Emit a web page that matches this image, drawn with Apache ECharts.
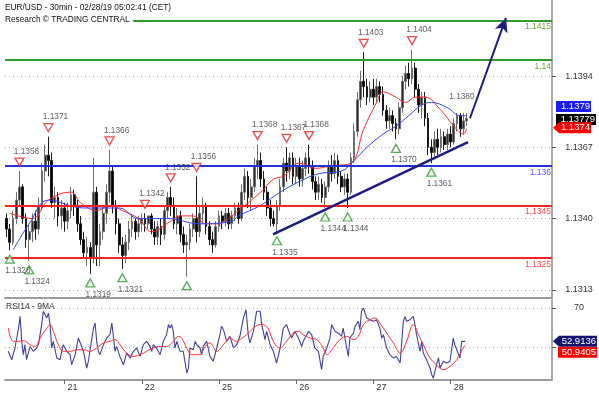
<!DOCTYPE html>
<html>
<head>
<meta charset="UTF-8">
<title>EUR/USD 30min</title>
<script src="https://cdn.jsdelivr.net/npm/echarts@6/dist/echarts.min.js"></script>
<style>
  html, body { margin: 0; padding: 0; background: #fff; }
  #chart { width: 599px; height: 397px; }
</style>
</head>
<body>
<div id="chart"></div>
<script>
// --- data (one candle per hour, index 0 = Feb 20 06:00) ---
const dayLabels = ['21', '22', '25', '26', '27', '28'];
const dayStarts = [18, 42, 66, 90, 114, 138];
const priceTicks = [1.1313, 1.1340, 1.1367, 1.1394];
const rsiTicks = [50, 70];
const rsiLabelTicks = [70];

const opens = [
  1.1340,1.1336,1.1331,1.1340,1.1347,1.1352,1.1340,1.1332,1.1335,1.1339,1.1336,1.1345,1.1358,1.1364,1.1362,1.1346,1.1348,1.1341,
  1.1344,1.1339,1.1343,1.1349,1.1345,1.1338,1.1332,1.1327,1.1329,1.1325,1.1350,1.1330,1.1335,1.1342,1.1350,1.1358,1.1345,1.1338,1.1330,1.1326,1.1331,1.1336,1.1339,1.1335,
  1.1338,1.1340,1.1338,1.1341,1.1336,1.1333,1.1337,1.1334,1.1343,1.1348,1.1345,1.1338,1.1341,1.1334,1.1330,1.1331,1.1336,1.1340,1.1335,1.1342,1.1345,1.1337,1.1332,1.1330,
  1.1337,1.1341,1.1339,1.1342,1.1338,1.1341,1.1344,1.1340,1.1350,1.1356,1.1348,1.1352,1.1360,1.1362,1.1355,1.1350,1.1344,1.1340,1.1338,1.1345,1.1352,1.1361,1.1358,1.1363,
  1.1356,1.1360,1.1355,1.1359,1.1363,1.1360,1.1354,1.1350,1.1353,1.1348,1.1352,1.1360,1.1357,1.1362,1.1356,1.1352,1.1355,1.1350,1.1363,1.1373,1.1385,1.1392,1.1390,1.1386,
  1.1389,1.1386,1.1390,1.1387,1.1381,1.1377,1.1379,1.1376,1.1374,1.1382,1.1392,1.1395,1.1393,1.1397,1.1389,1.1383,1.1386,1.1378,1.1367,1.1365,1.1370,1.1367,1.1371,1.1368,
  1.1372,1.1369,1.1376,1.1379,1.1374,1.1377
];
const closes = [
  1.1336,1.1331,1.1340,1.1347,1.1352,1.1340,1.1332,1.1335,1.1339,1.1336,1.1345,1.1358,1.1364,1.1362,1.1346,1.1348,1.1341,1.1344,
  1.1339,1.1343,1.1349,1.1345,1.1338,1.1332,1.1327,1.1329,1.1325,1.1350,1.1330,1.1335,1.1342,1.1350,1.1358,1.1345,1.1338,1.1330,1.1326,1.1331,1.1336,1.1339,1.1335,1.1338,
  1.1340,1.1338,1.1341,1.1336,1.1333,1.1337,1.1334,1.1343,1.1348,1.1345,1.1338,1.1341,1.1334,1.1330,1.1331,1.1336,1.1340,1.1335,1.1342,1.1345,1.1337,1.1332,1.1330,1.1337,
  1.1341,1.1339,1.1342,1.1338,1.1341,1.1344,1.1340,1.1350,1.1356,1.1348,1.1352,1.1360,1.1362,1.1355,1.1350,1.1344,1.1340,1.1338,1.1345,1.1352,1.1361,1.1358,1.1363,1.1356,
  1.1360,1.1355,1.1359,1.1363,1.1360,1.1354,1.1350,1.1353,1.1348,1.1352,1.1360,1.1357,1.1362,1.1356,1.1352,1.1355,1.1350,1.1363,1.1373,1.1385,1.1392,1.1390,1.1386,1.1389,
  1.1386,1.1390,1.1387,1.1381,1.1377,1.1379,1.1376,1.1374,1.1382,1.1392,1.1395,1.1393,1.1397,1.1389,1.1383,1.1386,1.1378,1.1367,1.1365,1.1370,1.1367,1.1371,1.1368,1.1372,
  1.1369,1.1376,1.1379,1.1374,1.1377,1.13779
];
const lows = [
  1.1333,1.1328,1.1330,1.1338,1.1345,1.1338,1.1329,1.1324,1.1331,1.1332,1.1334,1.1343,1.1354,1.1356,1.1344,1.1340,1.1337,1.1336,
  1.1335,1.1336,1.1340,1.1341,1.1335,1.1330,1.1325,1.1322,1.1319,1.1323,1.1322,1.1322,1.1332,1.1338,1.1346,1.1342,1.1334,1.1327,1.1321,1.1323,1.1328,1.1333,1.1332,1.1333,
  1.1335,1.1335,1.1336,1.1334,1.1330,1.1330,1.1330,1.1332,1.1340,1.1341,1.1336,1.1334,1.1331,1.1327,1.1318,1.1328,1.1333,1.1331,1.1333,1.1338,1.1334,1.1330,1.1327,1.1329,
  1.1335,1.1336,1.1337,1.1336,1.1336,1.1339,1.1338,1.1339,1.1347,1.1344,1.1343,1.1350,1.1355,1.1352,1.1347,1.1341,1.1337,1.1337,1.1335,1.1343,1.1350,1.1354,1.1355,1.1353,
  1.1353,1.1352,1.1352,1.1356,1.1357,1.1351,1.1347,1.1347,1.1346,1.1344,1.1350,1.1354,1.1355,1.1353,1.1350,1.1349,1.1344,1.1349,1.1361,1.1371,1.1382,1.1386,1.1383,1.1384,
  1.1383,1.1384,1.1384,1.1379,1.1374,1.1374,1.1373,1.1370,1.1372,1.1380,1.1389,1.1390,1.1391,1.1386,1.1380,1.1378,1.1375,1.1364,1.1361,1.1363,1.1364,1.1365,1.1366,1.1366,
  1.1367,1.1368,1.1373,1.1371,1.1372,1.1375
];
const highs = [
  1.1342,1.1338,1.1343,1.1350,1.1358,1.1353,1.1342,1.1338,1.1342,1.1343,1.1348,1.1361,1.1368,1.1371,1.1365,1.1352,1.1350,1.1347,
  1.1346,1.1346,1.1352,1.1351,1.1347,1.1341,1.1335,1.1333,1.1331,1.1363,1.1352,1.1338,1.1345,1.1353,1.1366,1.1360,1.1347,1.1340,1.1333,1.1334,1.1339,1.1341,1.1340,1.1341,
  1.1342,1.1342,1.1341,1.1342,1.1339,1.1339,1.1340,1.1345,1.1350,1.1352,1.1348,1.1344,1.1343,1.1337,1.1334,1.1338,1.1342,1.1356,1.1345,1.1348,1.1346,1.1339,1.1335,1.1339,
  1.1343,1.1343,1.1344,1.1344,1.1343,1.1346,1.1346,1.1353,1.1359,1.1358,1.1355,1.1363,1.1368,1.1365,1.1358,1.1352,1.1347,1.1343,1.1347,1.1355,1.1363,1.1367,1.1365,1.1365,
  1.1363,1.1363,1.1362,1.1365,1.1368,1.1362,1.1356,1.1356,1.1355,1.1354,1.1362,1.1364,1.1365,1.1364,1.1358,1.1357,1.1357,1.1365,1.1376,1.1388,1.1396,1.1403,1.1393,1.1392,
  1.1393,1.1393,1.1392,1.1390,1.1383,1.1382,1.1381,1.1378,1.1384,1.1394,1.1398,1.1399,1.1404,1.1399,1.1391,1.1388,1.1388,1.1380,1.1370,1.1373,1.1374,1.1374,1.1373,1.1374,
  1.1375,1.1378,1.1380,1.1380,1.1380,1.1380
];

// moving averages on the price panel: [candle index, price]
const redMa = [[1,1.1342],[8,1.1340],[13,1.1347],[20,1.1350],[23,1.1346],[28,1.1343],[32,1.1345],[36,1.1343],[41,1.1340],[45,1.1335],[51,1.1339],[54,1.1341],[58,1.1341],[62,1.1338],[66,1.1338],[70,1.1341],[72,1.1343],[79,1.1350],[83,1.1355],[86,1.1356],[91,1.1361],[96,1.1359],[101,1.1360],[107,1.1361],[111,1.1374],[115,1.1384],[117,1.1388],[121,1.1386],[124,1.1384],[127,1.1386],[130,1.1386],[135,1.1381],[139,1.1375],[142,1.1372],[143,1.1374]];
const blueMa = [[2,1.1328],[7,1.1338],[13,1.1347],[24,1.1344],[35,1.1344],[41,1.1340],[50,1.1340],[60,1.1338],[70,1.1339],[72,1.1341],[79,1.1345],[85,1.1350],[91,1.1354],[97,1.1357],[104,1.1358],[108,1.1362],[112,1.1367],[117,1.1372],[121,1.1375],[125,1.1379],[129,1.1383],[132,1.1384],[137,1.1382],[141,1.1379],[143,1.1379]];

// RSI14 and its 9MA: [position in candles, value]
const rsi = [[0.5,47.8],[1.6,43.5],[2.6,49.5],[3.7,59.7],[4.2,65.7],[4.7,52.9],[5.2,46.1],[5.7,51.2],[6.2,43.5],[7.3,50.3],[8.3,47.8],[9.3,49.5],[9.9,51.2],[10.9,61.5],[11.4,68.3],[12.5,64.9],[13,67.4],[13.5,61.5],[14,49.5],[14.5,52.9],[15.6,44.4],[16.6,43.5],[17.6,51.2],[18.7,47.8],[19.7,46.1],[20.2,40.9],[21.3,46.1],[22.3,54.6],[22.8,55.5],[23.9,47.8],[24.9,39.2],[25.4,42.7],[27,59.7],[27.5,62.3],[28,52.9],[28.5,47.8],[29,46.1],[30.1,51.2],[31.1,54.6],[32.1,56.3],[32.7,62.3],[33.7,47.8],[34.2,50.3],[35.2,45.2],[36.3,40.9],[37.3,46.9],[38.4,44.4],[39.4,47.8],[40.4,49.5],[41.5,45.2],[42.5,51.2],[43.5,52.9],[44.6,50.3],[45.1,47.8],[45.6,51.2],[46.6,49.5],[47.7,46.1],[48.7,52.9],[49.7,56.3],[50.3,61.5],[50.8,59.7],[51.3,61.5],[51.8,58],[52.3,49.5],[52.9,52.9],[53.9,47.8],[54.9,47.8],[56,36.7],[56.5,39.2],[57,49.5],[58,48.6],[58.6,52.9],[59.1,51.2],[60.1,49.5],[60.6,46.1],[61.1,50.3],[62.2,52.9],[63.2,45.2],[64.2,42.7],[65.3,49.5],[66.3,56.3],[66.8,60.6],[67.4,58.9],[68.4,52.9],[69.4,55.5],[70.5,49.5],[71.5,51.2],[72.5,55.5],
  [73.6,64.9],[74.4,69.1],[75.1,56.3],[75.6,52.1],[76.7,58],[77.7,68.3],[78.2,69.1],[78.8,68.3],[79.3,61.5],[80.3,53.8],[80.8,58],[81.9,51.2],[82.9,47.8],[83.9,41.8],[85,49.5],[86,59.7],[87,61.5],[88.1,56.3],[88.6,54.6],[89.6,58],[90.7,54.6],[91.7,50.3],[92.2,52.9],[93.3,56.3],[93.8,58],[94.8,56.3],[95.8,49.5],[96.9,47.8],[97.9,38.4],[98.4,45.2],[99.5,49.5],[100.5,54.6],[101,61.5],[102.1,58],[103.1,57.2],[104.1,55.5],[104.6,59.7],[105.7,49.5],[106.2,45.2],[106.7,54.6],[107.8,57.2],[108.3,60.6],[109.3,63.2],[109.8,58.9],[110.3,68.3],[110.9,70],[111.9,64.9],[112.9,64],[114,63.2],[115,64],[116,59.7],[116.6,54.6],[117.1,56.3],[118.1,49.5],[119.1,46.1],[120.2,44.4],[121.2,45.2],[122.3,41.8],[123.3,63.2],[123.8,65.7],[124.3,63.2],[125.4,64],[126.4,65.7],[126.9,61.5],[127.4,56.3],[128.5,47.8],[129,52.9],[129.5,46.9],[130.5,43.5],[131.6,39.2],[132.1,35.8],[132.6,34.1],[133.6,40.9],[134.2,44.4],[134.7,39.2],[135.7,42.7],[136.8,41.8],[137.8,42.7],[138.8,54.6],[139.3,51.2],[139.9,48.6],[140.9,44.4],[141.4,52.9],[142.5,52.9136]];
const rsiMa = [[0.5,59.7],[2.1,52.9],[3.7,52.9],[5.2,53.2],[7.3,51.2],[8.8,50.3],[10.4,54.6],[12.5,59.7],[13.5,61.5],[14.5,58],[16.1,51.2],[17.6,47.8],[19.7,47.8],[21.8,48.6],[23.9,48.6],[25.9,47.8],[28,49.5],[30.1,52.1],[32.1,52.9],[33.7,53.8],[35.2,51.2],[37.3,46.9],[39.4,45.2],[41.5,46.1],[43.5,47.8],[45.6,49.5],[47.7,50.3],[49.7,50.3],[51.8,52.9],[53.4,55.5],[54.4,54.6],[56,49.5],[57.5,46.1],[60.1,46.1],[61.7,50.3],[63.2,52.1],[65.3,47.8],[67.4,51.2],[69.4,54.6],[71.5,52.9],[72.5,53.8],[74.6,56.3],[76.7,59.7],[78.8,61.5],[80.8,60.6],[82.4,54.6],[83.9,50.3],[85,49.5],[87,52.9],[89.1,57.2],[90.7,58],[92.2,56.3],[94.3,54.6],[96.4,53.8],[98.4,49.5],[99.5,46.1],[101.5,49.5],[103.6,53.8],[105.7,55.5],[107.8,53.8],[109.3,55.5],[110.9,61.5],[112.9,64],[114.5,64.9],[116,62.3],[118.1,57.2],[120.2,52.1],[122.3,46.9],[124.3,52.9],[126.4,61.5],[128,56.3],[129.5,51.2],[131.6,44.4],[133.6,40.9],[135.7,38.4],[137.8,40.1],[139.9,43.5],[141.9,49.5],[142.5,50.9405]];

// swing marks
const highPoints = [[4,1.1358],[13,1.1371],[32,1.1366],[43,1.1342],[51,1.1352],[59,1.1356],[78,1.1368],[87,1.1367],[94,1.1368],[111,1.1403],[126,1.1404]];
const lowPoints = [[1,1.1328],[7,1.1324],[26,1.1319],[36,1.1321],[56,1.1318],[84,1.1335],[99,1.1344],[106,1.1344],[121,1.1370],[132,1.1361]];
const lowNoLabel = [56];
const notePoints = [[141.5,1.1380]];

// drawn levels and lines
const levelValues = [1.1415, 1.14, 1.136, 1.1345, 1.1325];
const levelLabels = ['1.1415', '1.14', '1.136', '1.1345', '1.1325'];
const levelFrom = [39.3, null, null, null, null];
const trendLine = [[82.8, 1.1334], [143.4, 1.1369]];
const arrowLine = [[144, 1.1378], [155.2, 1.1416]];

// --- chart ---
const nSlots = 170;
const font = 'Liberation Sans, Arial, sans-serif';
const levelColors = ['#2f9a2f', '#2f9a2f', '#2430d8', '#ff1f1f', '#ff1f1f'];
const levelTextColors = ['#6aa33a', '#6aa33a', '#4f4fff', '#ff4a4a', '#ff4a4a'];
const navy = '#1c1c82';
const dots = { color: '#a8a8a8', type: [1, 3], width: 1 };

const categories = Array.from({ length: nSlots }, (_, i) => String(i));
const candles = opens.map((o, i) => [o, closes[i], lows[i], highs[i]]);

const levelLines = levelValues.map((v, k) => {
  const label = {
    show: true, position: 'insideEndBottom', formatter: levelLabels[k],
    color: levelTextColors[k], fontSize: 8.5, distance: [1, 2]
  };
  const lineStyle = { color: levelColors[k], width: 2, type: 'solid' };
  if (levelFrom[k] === null) {
    return { yAxis: v, label, lineStyle };
  }
  return [{ coord: [levelFrom[k], v], label, lineStyle }, { coord: [nSlots - 0.5, v] }];
});

const chart = echarts.init(document.getElementById('chart'));

const option = {
  animation: false,
  backgroundColor: '#ffffff',
  textStyle: { fontFamily: font },
  title: [
    {
      text: 'EUR/USD - 30min - 02/28/19 05:02:41 (CET)\nResearch © TRADING CENTRAL',
      left: 5, top: 2, padding: 0,
      textStyle: { fontSize: 8.3, fontWeight: 'normal', color: '#111', lineHeight: 12 }
    },
    {
      text: 'RSI14 - 9MA', left: 6, top: 302, padding: 0,
      textStyle: { fontSize: 8.5, fontWeight: 'normal', color: '#333' }
    }
  ],
  grid: [
    { left: 5, right: 47, top: 0, height: 298 },
    { left: 5, right: 47, top: 300, height: 80 }
  ],
  xAxis: [
    {
      type: 'category', gridIndex: 0, data: categories, boundaryGap: true,
      axisLine: { onZero: false, lineStyle: { color: '#9c9c9c', width: 2 } },
      axisTick: { show: false }, axisLabel: { show: false }, splitLine: { show: false }
    },
    { type: 'value', gridIndex: 0, min: -0.5, max: nSlots - 0.5, show: false },
    {
      type: 'value', gridIndex: 1, min: -0.5, max: nSlots - 0.5,
      axisLine: { onZero: false, lineStyle: { color: '#9c9c9c', width: 2 } },
      axisTick: { customValues: dayStarts, length: 4, lineStyle: { color: '#666' } },
      axisLabel: {
        customValues: dayStarts, align: 'left', margin: 3, padding: [0, 0, 0, 3],
        fontSize: 9, color: '#333',
        formatter: v => dayLabels[dayStarts.indexOf(v)]
      },
      splitLine: { show: false }
    }
  ],
  yAxis: [
    {
      type: 'value', gridIndex: 0, position: 'right', min: 1.13099, max: 1.14228,
      axisLine: { show: true, onZero: false, lineStyle: { color: '#8c8c8c', width: 1.5 } },
      axisTick: { show: true, customValues: priceTicks, length: 4, lineStyle: { color: '#555' } },
      axisLabel: {
        customValues: priceTicks, formatter: v => v.toFixed(4),
        align: 'center', margin: 27, fontSize: 9, color: '#333'
      },
      splitLine: { show: false }
    },
    {
      type: 'value', gridIndex: 1, position: 'right', min: 33.1, max: 74.1,
      axisLine: { show: true, onZero: false, lineStyle: { color: '#8c8c8c', width: 1.5 } },
      axisTick: { show: true, customValues: rsiTicks, length: 4, lineStyle: { color: '#555' } },
      axisLabel: {
        customValues: rsiLabelTicks, formatter: v => String(v),
        align: 'center', margin: 27, fontSize: 9, color: '#333'
      },
      splitLine: { show: false }
    }
  ],
  series: [
    {
      name: 'EUR/USD', type: 'candlestick', xAxisIndex: 0, yAxisIndex: 0,
      data: candles, barWidth: '70%', z: 3,
      itemStyle: {
        color: '#2e2e2e', color0: '#000000',
        borderColor: '#6e6e6e', borderColor0: '#1a1a1a', borderWidth: 1
      },
      markLine: {
        silent: true, symbol: 'none', animation: false, precision: 5, z: 1,
        label: { show: false },
        lineStyle: dots,
        data: priceTicks.map(v => ({ yAxis: v }))
      }
    },
    {
      name: 'MA red', type: 'line', xAxisIndex: 1, yAxisIndex: 0, data: redMa,
      smooth: 0.4, symbol: 'none', z: 4,
      lineStyle: { color: '#ff2a2a', width: 1 }
    },
    {
      name: 'MA blue', type: 'line', xAxisIndex: 1, yAxisIndex: 0, data: blueMa,
      smooth: 0.4, symbol: 'none', z: 4,
      lineStyle: { color: '#3344ff', width: 1 }
    },
    {
      name: 'trend', type: 'line', xAxisIndex: 1, yAxisIndex: 0, data: trendLine,
      symbol: 'none', z: 5,
      lineStyle: { color: navy, width: 2.5 },
      markLine: {
        silent: true, symbol: 'none', animation: false, precision: 5,
        data: levelLines.concat([[
          { coord: arrowLine[0], symbol: 'none', label: { show: false }, lineStyle: { color: navy, width: 2, type: 'solid' } },
          { coord: arrowLine[1], symbol: 'arrow', symbolSize: [10, 14] }
        ]])
      }
    },
    {
      name: 'highs', type: 'scatter', xAxisIndex: 1, yAxisIndex: 0, data: highPoints,
      symbol: 'triangle', symbolRotate: 180, symbolSize: [9, 8], symbolOffset: [0, -9], z: 6,
      itemStyle: { color: '#ffffff', borderColor: '#e82020', borderWidth: 1.3 },
      label: {
        show: true, position: 'top', distance: 2, offset: [7, 0], fontSize: 8.3, color: '#333',
        formatter: p => p.value[1].toFixed(4)
      }
    },
    {
      name: 'lows', type: 'scatter', xAxisIndex: 1, yAxisIndex: 0, data: lowPoints,
      symbol: 'triangle', symbolSize: [9, 8], symbolOffset: [0, 9], z: 6,
      itemStyle: { color: '#ffffff', borderColor: '#2a9a2a', borderWidth: 1.3 },
      label: {
        show: true, position: 'bottom', distance: 3, offset: [8, 0], fontSize: 8.3, color: '#333',
        formatter: p => lowNoLabel.includes(p.value[0]) ? '' : p.value[1].toFixed(4)
      }
    },
    {
      name: 'note', type: 'scatter', xAxisIndex: 1, yAxisIndex: 0, data: notePoints,
      symbolSize: 0, z: 6,
      label: { show: true, position: 'top', distance: 12, fontSize: 8.3, color: '#333', formatter: p => p.value[1].toFixed(4) }
    },
    {
      name: 'RSI14', type: 'line', xAxisIndex: 2, yAxisIndex: 1, data: rsi,
      symbol: 'none', z: 3,
      lineStyle: { color: '#1e1e8c', width: 1.1, opacity: 0.85 },
      markLine: {
        silent: true, symbol: 'none', animation: false, precision: 2,
        label: { show: false },
        lineStyle: dots,
        data: rsiTicks.map(v => ({ yAxis: v }))
      }
    },
    {
      name: '9MA', type: 'line', xAxisIndex: 2, yAxisIndex: 1, data: rsiMa,
      smooth: 0.4, symbol: 'none', z: 4,
      lineStyle: { color: '#ff3030', width: 1 }
    }
  ]
};

chart.setOption(option);

// value flags on the right side, placed through the axes' scales
function flag(y, text, bg, x0, x1, pointer, z) {
  const h = 11;
  const pts = pointer
    ? [[x0, y], [x0 + 6, y - h / 2], [x1, y - h / 2], [x1, y + h / 2], [x0 + 6, y + h / 2]]
    : [[x0, y - h / 2], [x1, y - h / 2], [x1, y + h / 2], [x0, y + h / 2]];
  return [
    { type: 'polygon', shape: { points: pts }, style: { fill: bg }, z: z },
    {
      type: 'text', x: x1 - 1, y: y, z: z + 1,
      style: { text: text, fill: '#ffffff', fontSize: 9.5, fontFamily: font, align: 'right', verticalAlign: 'middle' }
    }
  ];
}

const yPrice = v => chart.convertToPixel({ yAxisIndex: 0 }, v);
const yRsi = v => chart.convertToPixel({ yAxisIndex: 1 }, v);
const lastBlue = blueMa[blueMa.length - 1][1];
const lastRed = redMa[redMa.length - 1][1];
const lastClose = closes[closes.length - 1];
const lastRsi = rsi[rsi.length - 1][1];
const lastRsiMa = rsiMa[rsiMa.length - 1][1];

chart.setOption({
  graphic: [].concat(
    flag(yPrice(lastBlue) - 9, lastBlue.toFixed(4), '#1a1aff', 556, 591, false, 100),
    flag(yPrice(lastRed) - 1, lastRed.toFixed(4), '#ff0000', 553, 591, true, 104),
    flag(yPrice(lastClose) + 1, lastClose.toFixed(5), '#000000', 556, 596, false, 102),
    flag(yRsi(lastRsi), lastRsi.toFixed(4), '#141470', 553, 597, true, 100),
    flag(yRsi(lastRsiMa) + 7, lastRsiMa.toFixed(4), '#ff0000', 558, 597, false, 102)
  )
});
</script>
</body>
</html>
